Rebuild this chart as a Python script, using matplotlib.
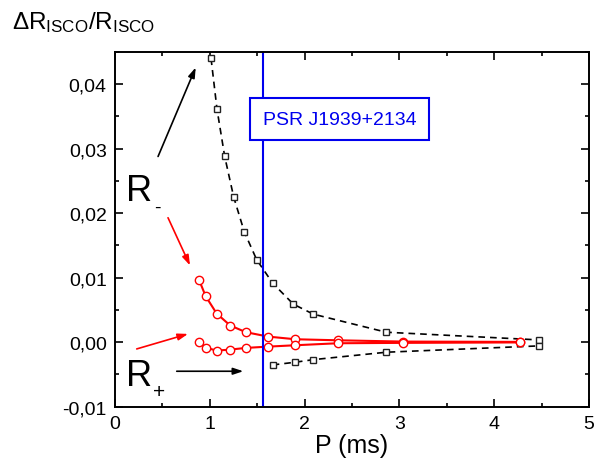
import numpy as np
import matplotlib
matplotlib.use('Agg')
import matplotlib.pyplot as plt
from matplotlib.ticker import MultipleLocator, FuncFormatter

plt.rcParams['font.family'] = ['Liberation Sans', 'DejaVu Sans']
plt.rcParams['mathtext.fontset'] = 'custom'
plt.rcParams['mathtext.rm'] = 'Liberation Sans'
plt.rcParams['mathtext.it'] = 'Liberation Sans'
plt.rcParams['axes.unicode_minus'] = False

# R- branch (black squares)
p_minus_up = [1.013, 1.076, 1.157, 1.252, 1.364, 1.494, 1.663, 1.881, 2.092, 2.862, 4.469]
r_minus_up = [0.0440, 0.0361, 0.0288, 0.0225, 0.0171, 0.0128, 0.00916, 0.0059, 0.00435, 0.00155, 0.00036]
p_minus_lo = [1.663, 1.902, 2.092, 2.862, 4.469]
r_minus_lo = [-0.00352, -0.0031, -0.0027, -0.00155, -0.00057]

# R+ branch (red circles)
p_plus = [0.889, 0.956, 1.072, 1.216, 1.382, 1.617, 1.902, 2.349, 3.035, 4.272]
r_plus_up = [0.00957, 0.00714, 0.00445, 0.00258, 0.00155, 0.00087, 0.00046, 0.0003, 0.0001, 0.00005]
r_plus_lo = [0.0, -0.00083, -0.0013, -0.00114, -0.00088, -0.00068, -0.00047, -0.00016, -0.0001, -0.00003]

p_psr = 1.558
psr_name = "PSR J1939+2134"

fig = plt.figure(figsize=(6, 4.64), dpi=100)
ax = fig.add_axes([0.1917, 0.1213, 0.79, 0.7645])

ax.plot(p_minus_up, r_minus_up, color='k', ls='--', dashes=(4, 3), lw=1.2,
        marker='s', ms=5, mfc='white', mec='#222222', mew=1.0)
ax.plot(p_minus_lo, r_minus_lo, color='k', ls='--', dashes=(4, 3), lw=1.2,
        marker='s', ms=5, mfc='white', mec='#222222', mew=1.0)
ax.plot(p_plus, r_plus_up, color='red', lw=1.5,
        marker='o', ms=6, mfc='white', mec='red', mew=1.0)
ax.plot(p_plus, r_plus_lo, color='red', lw=1.5,
        marker='o', ms=6, mfc='white', mec='red', mew=1.0)

ax.axvline(p_psr, color='#0000ee', lw=1.5)
ax.text(1.561, 0.0346, psr_name, color='#0000ee', fontsize=14, va='center', ha='left',
        bbox=dict(boxstyle='square,pad=0.65', fc='white', ec='#0000ee', lw=1.5))

# R labels
ax.text(0.12, 0.022, 'R', fontsize=26, va='baseline', ha='left')
ax.text(0.45, 0.0209, '-', fontsize=14, va='center', ha='center')
ax.text(0.12, -0.0067, 'R', fontsize=26, va='baseline', ha='left')
ax.text(0.464, -0.0077, '+', fontsize=15, va='center', ha='center')

arr = dict(arrowstyle='-|>,head_length=0.6,head_width=0.2', lw=1.2, shrinkA=0, shrinkB=0)
ax.annotate('', xy=(0.851, 0.0426), xytext=(0.454, 0.0288), arrowprops=dict(arr, color='k'))
ax.annotate('', xy=(0.791, 0.0119), xytext=(0.559, 0.0193), arrowprops=dict(arr, color='red'))
ax.annotate('', xy=(0.770, 0.00129), xytext=(0.229, -0.00104), arrowprops=dict(arr, color='red'))
ax.annotate('', xy=(1.353, -0.0045), xytext=(0.651, -0.0045), arrowprops=dict(arr, color='k'))

ax.set_xlim(0, 5)
ax.set_ylim(-0.01, 0.045)
ax.xaxis.set_major_locator(MultipleLocator(1))
ax.xaxis.set_minor_locator(MultipleLocator(0.5))
ax.yaxis.set_major_locator(MultipleLocator(0.01))
ax.yaxis.set_minor_locator(MultipleLocator(0.005))
ax.yaxis.set_major_formatter(FuncFormatter(lambda v, pos: ("%.2f" % v).replace('.', ',')))
ax.tick_params(which='both', direction='in', top=True, right=True, labelsize=14, width=1.2)
ax.tick_params(which='major', length=6, pad=6)
ax.tick_params(which='minor', length=3)
for s in ax.spines.values():
    s.set_linewidth(1.4)

ax.set_xlabel('P (ms)', fontsize=18, labelpad=1)
fig.text(12 / 600, 1 - 29 / 464, r'$\Delta \mathrm{R}_{\mathrm{ISCO}}/\mathrm{R}_{\mathrm{ISCO}}$',
         fontsize=17.5, va='baseline', ha='left')

plt.savefig('out.png', dpi=100)
